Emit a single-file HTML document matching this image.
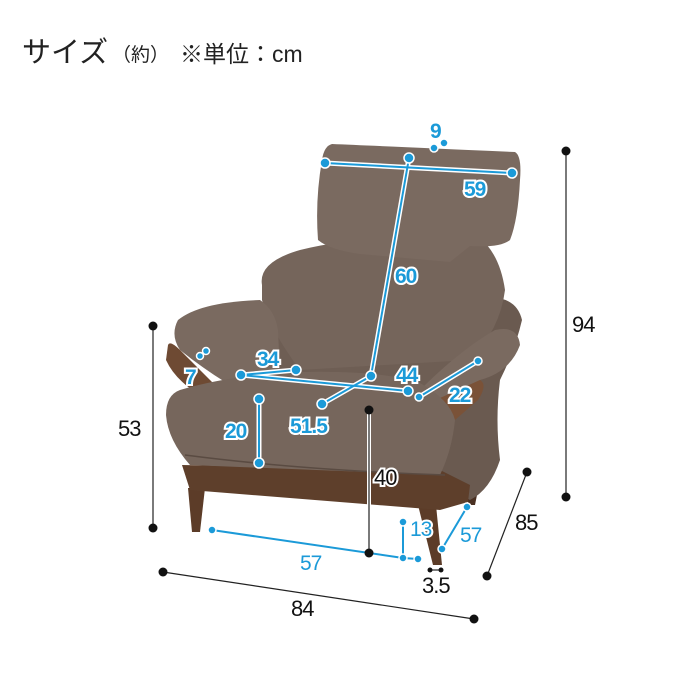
<!DOCTYPE html>
<html><head><meta charset="utf-8"><style>
html,body{margin:0;padding:0;background:#fff;width:700px;height:700px;overflow:hidden}
svg{display:block}
.t{font-family:"Liberation Sans","Noto Sans CJK JP",sans-serif}
.b{font-family:"Liberation Sans",sans-serif;font-size:21px;fill:#1b9ad8;stroke:#fff;stroke-width:4;paint-order:stroke;font-weight:bold;letter-spacing:-1px}
.k{font-family:"Liberation Sans",sans-serif;font-size:22px;fill:#111;letter-spacing:-1px}
</style></head><body>
<svg width="700" height="700" viewBox="0 0 700 700" xmlns="http://www.w3.org/2000/svg">
<text class="t" x="22" y="62" font-size="29" fill="#222">サイズ</text>
<text class="t" x="112" y="61" font-size="19" fill="#222">（約）</text>
<text class="t" x="180" y="62" font-size="23" fill="#222">※単位：cm</text>

<!-- chair -->
<g>
 <path d="M188 488 L205 488 L200 532 L192 532 Z" fill="#5c3c28"/>
 <path d="M418 505 L436 505 L442 565 L433 565 Z" fill="#5c3c28"/>
 <path d="M468 490 L478 490 L475 505 L468 505 Z" fill="#4a3022"/>
 <path d="M470 300 Q515 290 522 320 Q515 350 500 380 Q495 420 500 460 Q490 490 470 500 L430 480 L430 320 Z" fill="#6a5a50"/>
 <!-- gap filler -->
 <path d="M262 290 L485 290 L480 390 L270 392 Z" fill="#6e5e54"/>
 <path d="M262 285 Q258 262 300 250 Q340 240 380 240 L480 238 Q500 255 505 290 Q500 330 470 360 L300 370 Q270 330 262 300 Z" fill="#75655b"/>
 <path d="M332 144 Q380 146 515 152 Q522 156 520 180 Q518 220 510 240 Q500 248 470 246 L450 262 L360 254 Q330 250 318 240 Q315 200 322 160 Q324 146 332 144 Z" fill="#7a6a60"/>
 <path d="M178 320 Q200 302 260 300 Q275 310 278 330 L280 375 L230 385 Q205 370 180 350 Q170 335 178 320 Z" fill="#7a6a60"/>
 <path d="M168 345 Q170 340 180 350 Q200 370 215 385 L200 395 Q175 380 166 360 Z" fill="#6e4a33"/>
 <path d="M420 390 Q460 350 495 330 Q518 325 520 345 Q510 372 480 380 L440 400 Z" fill="#7a6a60"/>
 <path d="M440 398 L480 380 Q488 385 478 400 L455 420 L440 415 Z" fill="#7a5238"/>
 <path d="M182 465 L440 470 L470 485 L468 502 L440 510 L190 490 Z" fill="#5e3f2b"/>
 <path d="M180 390 Q230 375 300 372 Q380 370 420 383 Q450 400 455 420 Q452 450 440 475 L190 465 Q168 440 166 415 Q166 395 180 390 Z" fill="#76665c"/>
 <path d="M185 455 Q300 470 445 475" stroke="#5a4b42" stroke-width="1.5" fill="none"/>
</g>

<g stroke="#fff" stroke-width="5" fill="none" stroke-linecap="round">
 <line x1="325" y1="163" x2="512" y2="173"/>
 <line x1="409" y1="158" x2="371" y2="376"/>
 <line x1="241" y1="375" x2="296" y2="370"/>
 <line x1="241" y1="375" x2="408" y2="391"/>
 <line x1="419" y1="397" x2="478" y2="361"/>
 <line x1="322" y1="404" x2="371" y2="376"/>
 <line x1="259" y1="399" x2="259" y2="463"/>
</g>
<g stroke="#1b9ad8" stroke-width="2" fill="none">
 <line x1="325" y1="163" x2="512" y2="173"/>
 <line x1="409" y1="158" x2="371" y2="376"/>
 <line x1="241" y1="375" x2="296" y2="370"/>
 <line x1="241" y1="375" x2="408" y2="391"/>
 <line x1="419" y1="397" x2="478" y2="361"/>
 <line x1="322" y1="404" x2="371" y2="376"/>
 <line x1="259" y1="399" x2="259" y2="463"/>
 <line x1="212" y1="530" x2="403" y2="558"/>
 <line x1="403" y1="522" x2="403" y2="558"/>
 <line x1="403" y1="558" x2="418" y2="559"/>
 <line x1="442" y1="549" x2="467" y2="507"/>
</g>
<g fill="#1b9ad8" stroke="#fff" stroke-width="1.5">
 <circle cx="325" cy="163" r="5"/><circle cx="512" cy="173" r="5"/>
 <circle cx="409" cy="158" r="5"/><circle cx="371" cy="376" r="5"/>
 <circle cx="434" cy="148" r="4"/><circle cx="444" cy="143" r="4"/>
 <circle cx="241" cy="375" r="5"/><circle cx="296" cy="370" r="5"/>
 <circle cx="408" cy="391" r="5"/><circle cx="419" cy="397" r="4"/><circle cx="478" cy="361" r="4"/>
 <circle cx="322" cy="404" r="5"/><circle cx="259" cy="399" r="5"/><circle cx="259" cy="463" r="5"/>
 <circle cx="200" cy="356" r="3.5"/><circle cx="206" cy="351" r="3.5"/>
 <circle cx="212" cy="530" r="4"/><circle cx="403" cy="558" r="4"/><circle cx="403" cy="522" r="4"/>
 <circle cx="418" cy="559" r="4"/><circle cx="442" cy="549" r="4"/><circle cx="467" cy="507" r="4"/>
</g>
<text class="b" x="430" y="138">9</text>
<text class="b" x="464" y="196">59</text>
<text class="b" x="395" y="283">60</text>
<text class="b" x="257" y="366">34</text>
<text class="b" x="185" y="384">7</text>
<text class="b" x="396" y="382">44</text>
<text class="b" x="449" y="402">22</text>
<text class="b" x="290" y="433">51.5</text>
<text class="b" x="225" y="438">20</text>
<text class="b" x="410" y="536" style="font-weight:normal">13</text>
<text class="b" x="460" y="542" style="font-weight:normal">57</text>
<text class="b" x="300" y="570" style="font-weight:normal">57</text>

<g stroke="#222" stroke-width="1.2" fill="none">
 <line x1="369" y1="410" x2="369" y2="553" stroke="#fff" stroke-width="4"/>
 <line x1="369" y1="410" x2="369" y2="553"/>
 <line x1="153" y1="326" x2="153" y2="528"/>
 <line x1="566" y1="151" x2="566" y2="497"/>
 <line x1="527" y1="472" x2="487" y2="576"/>
 <line x1="163" y1="572" x2="474" y2="619"/>
 <line x1="430" y1="570" x2="441" y2="570"/>
</g>
<g fill="#111">
 <circle cx="369" cy="410" r="4.5"/><circle cx="369" cy="553" r="4.5"/>
 <circle cx="153" cy="326" r="4.5"/><circle cx="153" cy="528" r="4.5"/>
 <circle cx="566" cy="151" r="4.5"/><circle cx="566" cy="497" r="4.5"/>
 <circle cx="527" cy="472" r="4.5"/><circle cx="487" cy="576" r="4.5"/>
 <circle cx="163" cy="572" r="4.5"/><circle cx="474" cy="619" r="4.5"/>
 <circle cx="430" cy="570" r="2.5"/><circle cx="441" cy="570" r="2.5"/>
</g>
<text class="k" x="374" y="485" stroke="#fff" stroke-width="4" paint-order="stroke">40</text>
<text class="k" x="118" y="436">53</text>
<text class="k" x="572" y="332">94</text>
<text class="k" x="515" y="530">85</text>
<text class="k" x="291" y="616">84</text>
<text class="k" x="422" y="593">3.5</text>
</svg>
</body></html>
